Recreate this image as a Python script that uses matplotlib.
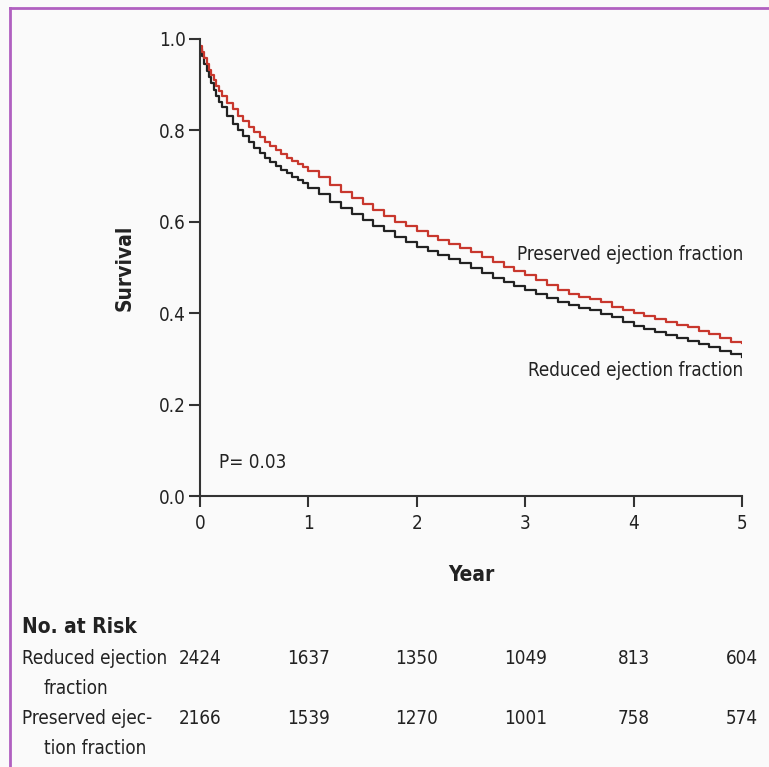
import matplotlib
matplotlib.use("Agg")
import matplotlib.pyplot as plt
from matplotlib.lines import Line2D
from matplotlib.transforms import blended_transform_factory
from matplotlib import font_manager

# pick a condensed face when one is installed
cond = [f for f in font_manager.fontManager.ttflist
        if f.name == 'DejaVu Sans' and f.stretch in ('condensed', 'semi-condensed', 600, 300)]
if cond:
    plt.rcParams['font.family'] = ['DejaVu Sans']
    plt.rcParams['font.stretch'] = 'condensed'
    FS = 13.5
else:
    plt.rcParams['font.family'] = ['Liberation Sans', 'DejaVu Sans']
    FS = 13

years = [0.0, 0.02, 0.04, 0.06, 0.08, 0.10, 0.125, 0.15, 0.175, 0.20, 0.25, 0.30, 0.35, 0.40, 0.45,
         0.50, 0.55, 0.60, 0.65, 0.70, 0.75, 0.80, 0.85, 0.90, 0.95,
         1.00, 1.10, 1.20, 1.30, 1.40, 1.50, 1.60, 1.70, 1.80, 1.90,
         2.00, 2.10, 2.20, 2.30, 2.40, 2.50, 2.60, 2.70, 2.80, 2.90,
         3.00, 3.10, 3.20, 3.30, 3.40, 3.50, 3.60, 3.70, 3.80, 3.90,
         4.00, 4.10, 4.20, 4.30, 4.40, 4.50, 4.60, 4.70, 4.80, 4.90, 5.00]

preserved_surv = [0.985, 0.972, 0.958, 0.945, 0.933, 0.922, 0.910, 0.898, 0.887, 0.876, 0.860, 0.846, 0.832, 0.820, 0.807,
                  0.796, 0.785, 0.775, 0.766, 0.757, 0.748, 0.740, 0.733, 0.726, 0.719,
                  0.712, 0.698, 0.680, 0.666, 0.653, 0.640, 0.626, 0.613, 0.600, 0.590,
                  0.580, 0.570, 0.561, 0.552, 0.543, 0.533, 0.522, 0.512, 0.502, 0.493,
                  0.484, 0.473, 0.461, 0.450, 0.442, 0.436, 0.430, 0.424, 0.414, 0.407,
                  0.400, 0.394, 0.387, 0.381, 0.375, 0.369, 0.362, 0.354, 0.345, 0.337, 0.335]

reduced_surv = [0.978, 0.962, 0.946, 0.930, 0.916, 0.903, 0.889, 0.876, 0.863, 0.851, 0.832, 0.815, 0.800, 0.787, 0.774,
                0.762, 0.751, 0.740, 0.731, 0.722, 0.714, 0.706, 0.699, 0.692, 0.684,
                0.675, 0.660, 0.644, 0.630, 0.616, 0.603, 0.591, 0.579, 0.567, 0.556,
                0.545, 0.537, 0.528, 0.519, 0.510, 0.500, 0.489, 0.478, 0.468, 0.459,
                0.451, 0.442, 0.433, 0.424, 0.418, 0.412, 0.406, 0.399, 0.391, 0.381,
                0.372, 0.365, 0.359, 0.352, 0.346, 0.339, 0.333, 0.326, 0.318, 0.310, 0.304]

risk_years = [0, 1, 2, 3, 4, 5]
risk_reduced = [2424, 1637, 1350, 1049, 813, 604]
risk_preserved = [2166, 1539, 1270, 1001, 758, 574]

x_ticks = [0, 1, 2, 3, 4, 5]
y_ticks = [0.0, 0.2, 0.4, 0.6, 0.8, 1.0]

BG = '#fafafa'
TXT = '#222222'
RED = '#c8372d'
BLK = '#222222'

W, H = 769, 767
fig = plt.figure(figsize=(W / 100, H / 100), dpi=100, facecolor=BG)
ax = fig.add_axes([200 / W, 1 - 496 / H, 542 / W, 457 / H], facecolor=BG)

ax.step(years, reduced_surv, where='post', color=BLK, lw=1.6)
ax.step(years, preserved_surv, where='post', color=RED, lw=1.6)

ax.set_xlim(0, 5)
ax.set_ylim(0, 1)
ax.set_xticks(x_ticks)
ax.set_xticklabels([str(v) for v in x_ticks])
ax.set_yticks(y_ticks)
ax.set_yticklabels([f"{v:.1f}" for v in y_ticks])
for s in ['top', 'right']:
    ax.spines[s].set_visible(False)
for s in ['left', 'bottom']:
    ax.spines[s].set_linewidth(1.5)
    ax.spines[s].set_color('#333333')
    ax.spines[s].set_clip_on(False)
ax.tick_params(axis='both', length=8, width=1.5, color='#333333', labelsize=FS, labelcolor=TXT, pad=2)
ax.tick_params(axis='x', pad=5)

fig.text(125 / W, 1 - 268 / H, 'Survival', rotation=90, ha='center', va='center',
         fontsize=FS + 1.5, fontweight='bold', color=TXT)
fig.text(471 / W, 1 - 575 / H, 'Year', ha='center', va='center',
         fontsize=FS + 1.5, fontweight='bold', color=TXT)

fig.text(219 / W, 1 - 463 / H, 'P= 0.03', ha='left', va='center', fontsize=FS, color=TXT)
fig.text(743 / W, 1 - 254 / H, 'Preserved ejection fraction', ha='right', va='center', fontsize=FS, color=TXT)
fig.text(743 / W, 1 - 371 / H, 'Reduced ejection fraction', ha='right', va='center', fontsize=FS, color=TXT)

fig.text(22 / W, 1 - 627 / H, 'No. at Risk', ha='left', va='center', fontsize=FS + 1.5, fontweight='bold', color=TXT)
fig.text(22 / W, 1 - 659 / H, 'Reduced ejection', ha='left', va='center', fontsize=FS, color=TXT)
fig.text(44 / W, 1 - 688 / H, 'fraction', ha='left', va='center', fontsize=FS, color=TXT)
fig.text(22 / W, 1 - 719 / H, 'Preserved ejec-', ha='left', va='center', fontsize=FS, color=TXT)
fig.text(44 / W, 1 - 748 / H, 'tion fraction', ha='left', va='center', fontsize=FS, color=TXT)

tr = blended_transform_factory(ax.transData, fig.transFigure)
for yr, a, b in zip(risk_years, risk_reduced, risk_preserved):
    fig.text(yr, 1 - 659 / H, str(a), transform=tr, ha='center', va='center', fontsize=FS, color=TXT)
    fig.text(yr, 1 - 719 / H, str(b), transform=tr, ha='center', va='center', fontsize=FS, color=TXT)

# purple frame edges (top and left)
fig.add_artist(Line2D([10 / W, 1.0], [1 - 7.5 / H, 1 - 7.5 / H], transform=fig.transFigure, color='#b060c0', lw=2))
fig.add_artist(Line2D([10 / W, 10 / W], [0, 1 - 7.5 / H], transform=fig.transFigure, color='#b060c0', lw=2))

fig.savefig('out.png', dpi=100, facecolor=BG)
